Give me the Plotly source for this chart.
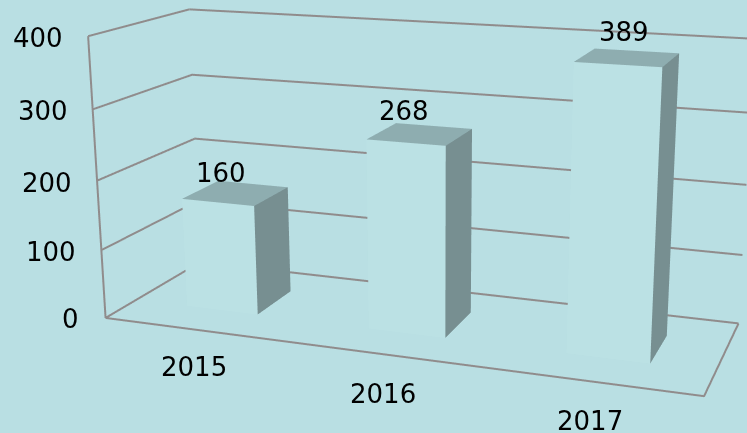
import plotly.graph_objects as go

# data
years = ["2015", "2016", "2017"]
values = [160, 268, 389]
ticks = [0, 100, 200, 300, 400]

# bar footprints on the floor (x axis 0..1, y axis 0..1 is depth)
bar_left = [0.0981, 0.4335, 0.7673]
bar_right = [0.2320, 0.5664, 0.8999]
bar_front = 0.3059
bar_back = 0.6999

# label nudges, pixels
tick_dx = [-25, -23, -23, -23, -23]
tick_dy = [-1, -2, -2, -2, -2]
value_dx = [-15, -16, -3]
value_dy = [20, 23, 26]
year_dx = [1, -1, -2]
year_dy = [-37.5, -39.5, -39.5]

BG = "#b9dfe3"
GRID = dict(color="#908c8c", width=4)
FONT = dict(family="DejaVu Sans", size=26, color="#000")

fig = go.Figure()


def faces(corners, colour):
    xs, ys, zs, ii, jj, kk = [], [], [], [], [], []
    for a, b, v in zip(bar_left, bar_right, values):
        n = len(xs)
        for p in corners(a, b, v):
            xs.append(p[0]); ys.append(p[1]); zs.append(p[2])
        ii += [n, n]; jj += [n + 1, n + 2]; kk += [n + 2, n + 3]
    fig.add_trace(go.Mesh3d(x=xs, y=ys, z=zs, i=ii, j=jj, k=kk, color=colour, flatshading=True,
                            lighting=dict(ambient=1, diffuse=0, specular=0, roughness=1, fresnel=0),
                            hoverinfo="skip"))


faces(lambda a, b, v: [(a, bar_front, 0), (b, bar_front, 0), (b, bar_front, v), (a, bar_front, v)], "#bbe1e4")
faces(lambda a, b, v: [(a, bar_front, v), (b, bar_front, v), (b, bar_back, v), (a, bar_back, v)], "#8eadb0")
faces(lambda a, b, v: [(b, bar_front, 0), (b, bar_back, 0), (b, bar_back, v), (b, bar_front, v)], "#778f91")

for t in ticks:
    fig.add_trace(go.Scatter3d(x=[0, 0, 1], y=[0, 1, 1], z=[t, t, t], mode="lines", line=GRID, hoverinfo="skip"))
fig.add_trace(go.Scatter3d(x=[0, 0], y=[0, 0], z=[0, 400], mode="lines", line=GRID, hoverinfo="skip"))
fig.add_trace(go.Scatter3d(x=[0, 1, 1], y=[0, 0, 1], z=[0, 0, 0], mode="lines", line=GRID, hoverinfo="skip"))

notes = []
for n, t in enumerate(ticks):
    notes.append(dict(x=0, y=0, z=t, text=str(t), showarrow=False, xanchor="right", yanchor="middle",
                      xshift=tick_dx[n], yshift=tick_dy[n], font=FONT))
for i, v in enumerate(values):
    mid = (bar_left[i] + bar_right[i]) / 2
    notes.append(dict(x=mid, y=(bar_front + bar_back) / 2, z=v, text=str(v), showarrow=False,
                      xshift=value_dx[i], yshift=value_dy[i], font=FONT))
    notes.append(dict(x=mid, y=0, z=0, text=years[i], showarrow=False, xshift=year_dx[i], yshift=year_dy[i], font=FONT))

fig.update_layout(
    width=909, height=1233, margin=dict(l=0, r=0, t=0, b=0), paper_bgcolor=BG, showlegend=False,
    scene=dict(
        annotations=notes, domain=dict(x=[0, 1], y=[0, 1]),
        xaxis=dict(visible=False, range=[0, 1]),
        yaxis=dict(visible=False, range=[0, 1]),
        zaxis=dict(visible=False, range=[0, 400]),
        aspectmode="manual", aspectratio=dict(x=2, y=0.6594, z=0.9470),
        camera=dict(eye=dict(x=1.6201, y=-4.3826, z=1.2032),
                    center=dict(x=-0.1180, y=0.4686, z=-0.2082),
                    up=dict(x=0.0068, y=-0.0197, z=1),
                    projection=dict(type="perspective")),
    ),
)
# The scene's optical centre is not the middle of the window, so the larger plot is placed behind the window.
fig.write_html("out.html", post_script=(
    "document.documentElement.style.overflow='hidden';"
    "document.body.style.cssText='margin:0;overflow:hidden;background:#b9dfe3';"
    "var g=document.querySelector('.plotly-graph-div');"
    "g.style.position='absolute';g.style.left='-20px';g.style.top='-411px';"))
